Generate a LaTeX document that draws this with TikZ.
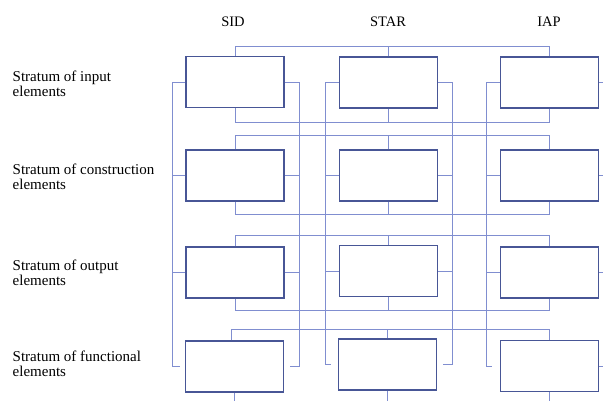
\documentclass[tikz,border=0pt]{standalone}
\usepackage{fontspec}
\setmainfont{Liberation Serif}
\begin{document}
\begin{tikzpicture}[x=1pt,y=-1pt,
  cell/.style={draw=boxc,line width=1.4pt,fill=white,rectangle,inner sep=0pt,minimum width=98pt,minimum height=51pt},
  wire/.style={draw=wirec,line width=0.9pt},
  head/.style={font=\fontsize{14.5}{16}\selectfont,inner sep=0pt},
  side/.style={font=\fontsize{15}{15.5}\selectfont,inner sep=0pt,align=left,anchor=west}]
\definecolor{boxc}{RGB}{72,86,150}
\definecolor{wirec}{RGB}{128,142,208}
\useasboundingbox (0,0) rectangle (603,401);
% headers
\node[head] (hs) at (233,22) {SID};
\node[head] (hm) at (388,22) {STAR};
\node[head] (hi) at (549,22) {IAP};
% side labels
\node[side] (l1) at (12.5,84) {Stratum of input\\elements};
\node[side] (l2) at (12.5,177) {Stratum of construction\\elements};
\node[side] (l3) at (12.5,273) {Stratum of output\\elements};
\node[side] (l4) at (12.5,364) {Stratum of functional\\elements};
% boxes
\node[cell] (s1) at (235,82.2) {};
\node[cell] (m1) at (388.3,82.5) {};
\node[cell] (i1) at (549.6,82.5) {};
\node[cell] (s2) at (235,175.5) {};
\node[cell] (m2) at (388.3,175.5) {};
\node[cell] (i2) at (549.6,175.5) {};
\node[cell] (s3) at (235,272.5) {};
\node[cell] (m3) at (388.3,271) {};
\node[cell] (i3) at (549.6,272.5) {};
\node[cell] (s4) at (234.2,366.5) {};
\node[cell] (m4) at (387.6,364.5) {};
\node[cell] (i4) at (549.2,366) {};
% bus coordinates
\coordinate (t1) at (0,46);   \coordinate (b1) at (0,122.3);
\coordinate (t2) at (0,135);  \coordinate (b2) at (0,214);
\coordinate (t3) at (0,235);  \coordinate (b3) at (0,310);
\coordinate (t4) at (0,329);  \coordinate (bot) at (0,401);
\coordinate (sl) at (172,0);  \coordinate (sr) at (299,0);
\coordinate (ml) at (325.3,0);\coordinate (mr) at (452.3,0);
\coordinate (il) at (486.5,0);\coordinate (ir) at (603,0);
% row buses
\foreach \r/\t in {1/t1,2/t2,3/t3}{
  \path[wire] (s\r.north) |- (\t -| i\r.north) -- (i\r.north);
  \path[wire] (m\r.north) -- (\t -| m\r.north);
}
\path[wire] ([xshift=-3pt]s4.north) |- (t4 -| i4.north) -- (i4.north);
\path[wire] (m4.north) -- (t4 -| m4.north);
\foreach \r/\b in {1/b1,2/b2,3/b3}{
  \path[wire] (s\r.south) |- (\b -| i\r.south) -- (i\r.south);
  \path[wire] (m\r.south) -- (\b -| m\r.south);
}
\path[wire] (s4.south) -- (bot -| s4.south);
\path[wire] (m4.south) -- (bot -| m4.south);
\path[wire] (i4.south) -- (bot -| i4.south);
% side brackets
\path[wire] (s1.west) -| (sl |- s4.west) -- ([xshift=-5pt]s4.west);
\path[wire] (s1.east) -| (sr |- s4.east) -- ([xshift=6pt]s4.east);
\path[wire] (m1.west) -| (ml |- m4.west) -- ([xshift=-7pt]m4.west);
\path[wire] (m1.east) -| (mr |- m4.east) -- ([xshift=6pt]m4.east);
\path[wire] (i1.west) -| (il |- i4.west) -- ([xshift=-8pt]i4.west);
\foreach \r in {2,3}{
  \path[wire] (s\r.west) -- (s\r.west -| sl);
  \path[wire] (s\r.east) -- (s\r.east -| sr);
  \path[wire] (m\r.west) -- (m\r.west -| ml);
  \path[wire] (m\r.east) -- (m\r.east -| mr);
  \path[wire] (i\r.west) -- (i\r.west -| il);
}
\foreach \r in {1,2,3,4}{
  \path[wire] (i\r.east) -- (i\r.east -| ir);
}
\end{tikzpicture}
\end{document}
